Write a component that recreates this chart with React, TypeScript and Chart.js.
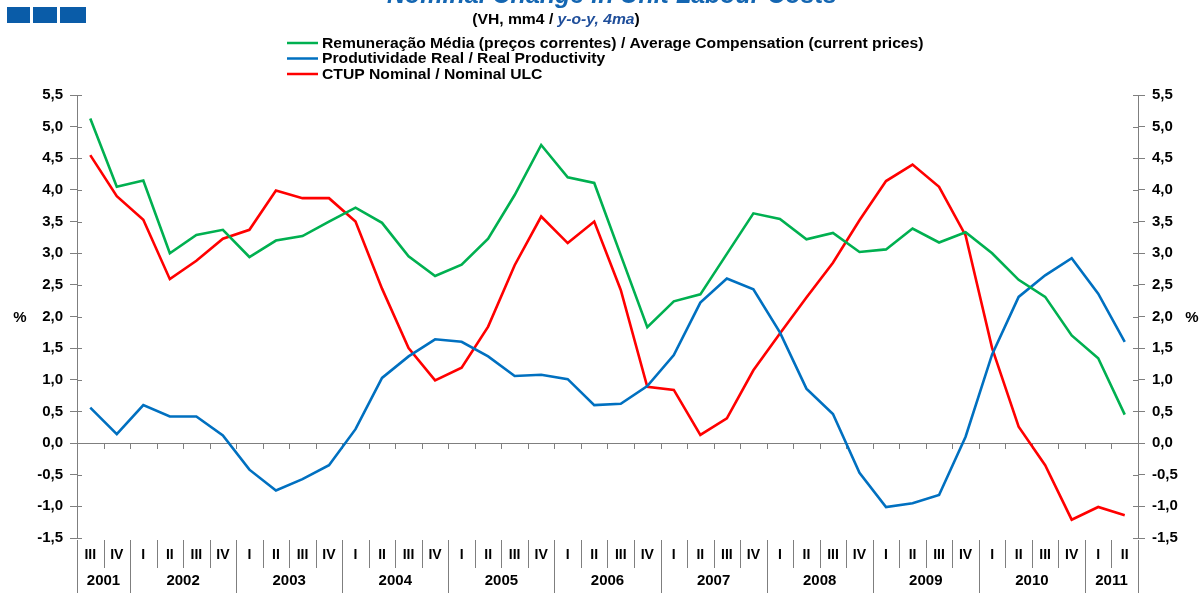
import React, { useEffect, useRef } from "react";
import { Chart, registerables } from "chart.js";

Chart.register(...registerables);

const quarters = [
  "III", "IV",
  "I", "II", "III", "IV",
  "I", "II", "III", "IV",
  "I", "II", "III", "IV",
  "I", "II", "III", "IV",
  "I", "II", "III", "IV",
  "I", "II", "III", "IV",
  "I", "II", "III", "IV",
  "I", "II", "III", "IV",
  "I", "II", "III", "IV",
  "I", "II",
];

const years = [
  "2001", "2001",
  "2002", "2002", "2002", "2002",
  "2003", "2003", "2003", "2003",
  "2004", "2004", "2004", "2004",
  "2005", "2005", "2005", "2005",
  "2006", "2006", "2006", "2006",
  "2007", "2007", "2007", "2007",
  "2008", "2008", "2008", "2008",
  "2009", "2009", "2009", "2009",
  "2010", "2010", "2010", "2010",
  "2011", "2011",
];

const compensation = [
  5.13, 4.05, 4.15, 3.0, 3.29, 3.37, 2.94, 3.2, 3.27, 3.5,
  3.72, 3.48, 2.95, 2.64, 2.82, 3.23, 3.92, 4.71, 4.2, 4.11,
  2.97, 1.83, 2.24, 2.35, 2.99, 3.63, 3.54, 3.22, 3.32, 3.02,
  3.06, 3.39, 3.17, 3.33, 3.0, 2.58, 2.31, 1.7, 1.34, 0.45,
];

const productivity = [
  0.56, 0.14, 0.6, 0.42, 0.42, 0.12, -0.42, -0.75, -0.57, -0.35,
  0.22, 1.03, 1.37, 1.64, 1.6, 1.37, 1.06, 1.08, 1.01, 0.6,
  0.62, 0.9, 1.39, 2.22, 2.6, 2.43, 1.75, 0.86, 0.46, -0.47,
  -1.01, -0.95, -0.82, 0.1, 1.4, 2.31, 2.65, 2.92, 2.36, 1.6,
];

const ulc = [
  4.55, 3.9, 3.53, 2.59, 2.88, 3.23, 3.37, 3.99, 3.87, 3.87,
  3.5, 2.44, 1.5, 0.99, 1.19, 1.84, 2.81, 3.58, 3.16, 3.5,
  2.42, 0.89, 0.84, 0.13, 0.39, 1.15, 1.73, 2.3, 2.85, 3.52,
  4.14, 4.4, 4.05, 3.28, 1.5, 0.26, -0.35, -1.21, -1.01, -1.14,
];

const seriesNames = [
  "Remuneração Média (preços correntes) / Average Compensation (current prices)",
  "Produtividade Real / Real Productivity",
  "CTUP Nominal / Nominal ULC",
];
const seriesColors = ["#00b050", "#0070c0", "#ff0000"];

const titleText = "Nominal Change in Unit Labour Costs";
const subtitleParts = ["(VH, mm4 / ", "y-o-y, 4ma", ")"];
const yMin = -1.5;
const yMax = 5.5;
const yStep = 0.5;

const FONT = '"Liberation Sans", Arial, sans-serif';
const AXIS_GRAY = "#7f7f7f";
const STRETCH = 1.12;

const fmt = (v: number) => v.toFixed(1).replace(".", ",");

const customPlugin = {
  id: "customDecor",
  beforeDatasetsDraw(chart: any) {
    const ctx = chart.ctx;
    const x = chart.scales.x;
    const y = chart.scales.y;
    const area = chart.chartArea;
    const y0 = y.getPixelForValue(0);
    ctx.save();
    ctx.strokeStyle = AXIS_GRAY;
    ctx.lineWidth = 1;
    ctx.beginPath();
    ctx.moveTo(area.left, Math.round(y0) + 0.5);
    ctx.lineTo(area.right, Math.round(y0) + 0.5);
    ctx.stroke();
    const n = quarters.length;
    const half = (x.getPixelForValue(1) - x.getPixelForValue(0)) / 2;
    ctx.beginPath();
    for (let i = 0; i <= n; i++) {
      const bx = Math.round(x.getPixelForValue(i) - half) + 0.5;
      ctx.moveTo(bx, Math.round(y0));
      ctx.lineTo(bx, Math.round(y0) + 6);
    }
    ctx.stroke();
    ctx.beginPath();
    for (let v = yMin; v <= yMax + 1e-9; v += yStep) {
      const py = Math.round(y.getPixelForValue(v)) + 0.5;
      ctx.moveTo(area.left, py);
      ctx.lineTo(area.left + 5, py);
      ctx.moveTo(area.right - 5, py);
      ctx.lineTo(area.right, py);
    }
    ctx.stroke();
    ctx.restore();
  },
  afterDraw(chart: any) {
    const ctx = chart.ctx;
    const x = chart.scales.x;
    const y = chart.scales.y;
    const area = chart.chartArea;
    ctx.save();

    const n = quarters.length;
    const half = (x.getPixelForValue(1) - x.getPixelForValue(0)) / 2;
    ctx.strokeStyle = AXIS_GRAY;
    ctx.lineWidth = 1;
    ctx.beginPath();
    for (let i = 0; i <= n; i++) {
      const bx = Math.round(x.getPixelForValue(i) - half) + 0.5;
      const isYear = i === 0 || i === n || years[i] !== years[i - 1];
      ctx.moveTo(bx, area.bottom + 2);
      ctx.lineTo(bx, isYear ? chart.height : area.bottom + 30);
    }
    ctx.stroke();

    ctx.fillStyle = "#000";
    ctx.textAlign = "center";
    ctx.textBaseline = "middle";
    ctx.font = `bold 14px ${FONT}`;
    for (let i = 0; i < n; i++) {
      ctx.fillText(quarters[i], x.getPixelForValue(i), area.bottom + 17);
    }
    ctx.font = `bold 15px ${FONT}`;
    let start = 0;
    for (let i = 1; i <= n; i++) {
      if (i === n || years[i] !== years[start]) {
        const cx = (x.getPixelForValue(start) + x.getPixelForValue(i - 1)) / 2;
        ctx.fillText(years[start], cx, area.bottom + 43);
        start = i;
      }
    }

    ctx.font = `bold 15px ${FONT}`;
    const p2 = y.getPixelForValue(2);
    ctx.fillText("%", 20, p2 + 1);
    ctx.fillText("%", 1192, p2 + 1);

    ctx.fillStyle = "#0a5ca8";
    ctx.fillRect(7, 7, 23, 16);
    ctx.fillRect(33, 7, 24, 16);
    ctx.fillRect(60, 7, 26, 16);

    ctx.fillStyle = "#1466b2";
    ctx.textAlign = "center";
    ctx.textBaseline = "alphabetic";
    ctx.font = `italic bold 25px ${FONT}`;
    ctx.fillText(titleText, 612, 3);

    // subtitle (slightly stretched horizontally like the reference)
    ctx.textAlign = "left";
    ctx.textBaseline = "middle";
    const fonts = [`bold 14px ${FONT}`, `italic bold 14px ${FONT}`, `bold 14px ${FONT}`];
    const colors = ["#000", "#1f4e9a", "#000"];
    let total = 0;
    const widths = subtitleParts.map((t, i) => {
      ctx.font = fonts[i];
      const w = ctx.measureText(t).width;
      total += w;
      return w;
    });
    ctx.save();
    const scx = 556;
    ctx.translate(scx, 20);
    ctx.scale(STRETCH, 1);
    let sx = -total / 2;
    subtitleParts.forEach((t, i) => {
      ctx.font = fonts[i];
      ctx.fillStyle = colors[i];
      ctx.fillText(t, sx, 0);
      sx += widths[i];
    });
    ctx.restore();

    const rows = [43, 58.5, 74];
    seriesNames.forEach((name, i) => {
      ctx.strokeStyle = seriesColors[i];
      ctx.lineWidth = 2.5;
      ctx.beginPath();
      ctx.moveTo(287, rows[i]);
      ctx.lineTo(318, rows[i]);
      ctx.stroke();
      ctx.save();
      ctx.translate(322, rows[i] + 1);
      ctx.scale(STRETCH, 1);
      ctx.font = `bold 14px ${FONT}`;
      ctx.fillStyle = "#000";
      ctx.textAlign = "left";
      ctx.textBaseline = "middle";
      ctx.fillText(name, 0, 0);
      ctx.restore();
    });

    ctx.restore();
  },
};

export default function App() {
  const ref = useRef<HTMLCanvasElement | null>(null);

  useEffect(() => {
    document.body.style.margin = "0";
    const canvas = ref.current;
    if (!canvas) return;
    const mk = (label: string, data: number[], color: string) => ({
      label,
      data,
      borderColor: color,
      backgroundColor: color,
      borderWidth: 2.6,
      pointRadius: 0,
      tension: 0,
      fill: false,
    });
    const yAxis = (position: "left" | "right", width: number) => ({
      position,
      min: yMin,
      max: yMax,
      afterFit: (s: any) => {
        s.width = width;
      },
      afterBuildTicks: (s: any) => {
        const t = [];
        for (let v = yMin; v <= yMax + 1e-9; v += yStep) t.push({ value: Math.round(v * 10) / 10 });
        s.ticks = t;
      },
      grid: {
        drawOnChartArea: false,
        drawTicks: true,
        tickLength: 7,
        color: AXIS_GRAY,
      },
      border: { display: true, color: AXIS_GRAY, width: 1 },
      ticks: {
        padding: 7,
        color: "#000",
        font: { family: FONT, size: 15, weight: "bold" },
        callback: (v: any) => fmt(Number(v)),
      },
    });
    const chart = new Chart(canvas, {
      type: "line",
      data: {
        labels: quarters.map((q, i) => `${q} ${years[i]}`),
        datasets: [
          mk(seriesNames[0], compensation, seriesColors[0]),
          mk(seriesNames[1], productivity, seriesColors[1]),
          mk(seriesNames[2], ulc, seriesColors[2]),
        ],
      },
      options: {
        responsive: false,
        animation: false,
        layout: { padding: { top: 95, left: 0, right: 0, bottom: 0 } },
        plugins: {
          legend: { display: false },
          tooltip: { enabled: false },
          title: { display: false },
        },
        scales: {
          x: {
            type: "category",
            offset: true,
            grid: { display: false },
            border: { display: false },
            ticks: { display: false },
            afterFit: (s: any) => {
              s.height = 55;
            },
          },
          y: yAxis("left", 77) as any,
          y2: yAxis("right", 64) as any,
        },
      },
      plugins: [customPlugin],
    });
    return () => chart.destroy();
  }, []);

  return (
    <div style={{ width: 1202, height: 593, background: "#fff" }}>
      <canvas ref={ref} width={1202} height={593} style={{ display: "block" }} />
    </div>
  );
}
